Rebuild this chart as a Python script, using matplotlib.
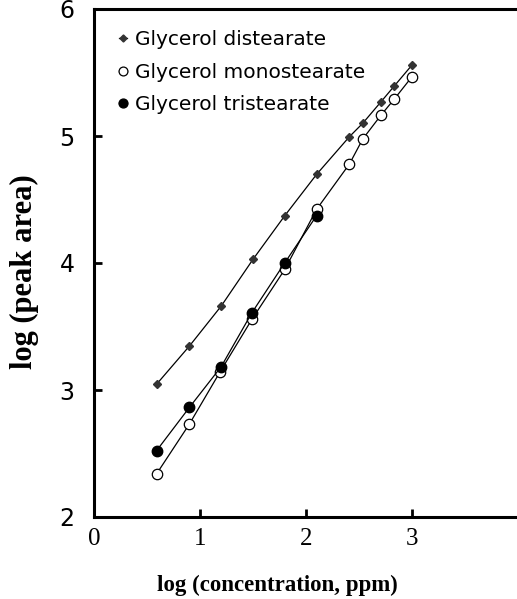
import matplotlib
matplotlib.use("Agg")
import matplotlib.pyplot as plt

# Data
x_di = [0.59, 0.90, 1.20, 1.50, 1.80, 2.10, 2.41, 2.535, 2.708, 2.833, 3.00]
y_di = [3.045, 3.346, 3.661, 4.029, 4.373, 4.698, 4.995, 5.10, 5.27, 5.394, 5.559]

x_mono = [0.59, 0.90, 1.19, 1.49, 1.80, 2.10, 2.41, 2.535, 2.708, 2.833, 3.00]
y_mono = [2.339, 2.732, 3.144, 3.557, 3.95, 4.423, 4.78, 4.976, 5.165, 5.291, 5.467]

x_tri = [0.59, 0.90, 1.20, 1.49, 1.80, 2.10]
y_tri = [2.522, 2.863, 3.184, 3.609, 4.002, 4.373]

labels = ["Glycerol distearate", "Glycerol monostearate", "Glycerol tristearate"]
xticks = [0, 1, 2, 3]
yticks = [2, 3, 4, 5, 6]

fig = plt.figure(figsize=(5.17, 5.99), dpi=100)
ax = fig.add_axes([94/517, 1 - 517/599, 1 - 94/517 + 0.002, (517 - 9)/599])

ax.plot(x_di, y_di, color="black", lw=0.9, marker="D", markersize=4.2,
        markerfacecolor="#333333", markeredgecolor="#333333", label=labels[0])
ax.plot(x_mono, y_mono, color="black", lw=0.9, marker="o", markersize=7.5,
        markerfacecolor="white", markeredgecolor="black", markeredgewidth=0.9, label=labels[1])
ax.plot(x_tri, y_tri, color="black", lw=0.9, marker="o", markersize=7.5,
        markerfacecolor="black", markeredgecolor="black", label=labels[2])

ax.set_xlim(0, 4.0)
ax.set_ylim(2, 6)
ax.set_xticks(xticks)
ax.set_yticks(yticks)
ax.set_xticklabels([str(t) for t in xticks], fontfamily="Liberation Serif", fontsize=18)
ax.set_yticklabels([str(t) for t in yticks], fontfamily="DejaVu Sans", fontsize=17)
ax.tick_params(direction="in", length=6, width=2, pad=8)
ax.tick_params(axis="y", pad=14)

for s in ["left", "bottom", "top", "right"]:
    ax.spines[s].set_linewidth(2.2)
ax.spines["right"].set_visible(False)

ax.set_xlabel("log (concentration, ppm)", fontfamily="Liberation Serif",
              fontweight="bold", fontsize=16.5, va="center", ha="center")
ax.xaxis.set_label_coords(0.433, -0.134)
ax.set_ylabel("log (peak area)", fontfamily="Liberation Serif",
              fontweight="bold", fontsize=22, va="center", ha="center")
ax.yaxis.set_label_coords(-0.165, 0.484)

leg = ax.legend(loc="upper left", frameon=False, prop={"family": "DejaVu Sans", "size": 14.5},
                handlelength=0.4, handletextpad=0.4, labelspacing=0.67,
                borderaxespad=0.3, bbox_to_anchor=(0.025, 0.986), markerscale=0.85)

fig.savefig("out.png", dpi=100)
